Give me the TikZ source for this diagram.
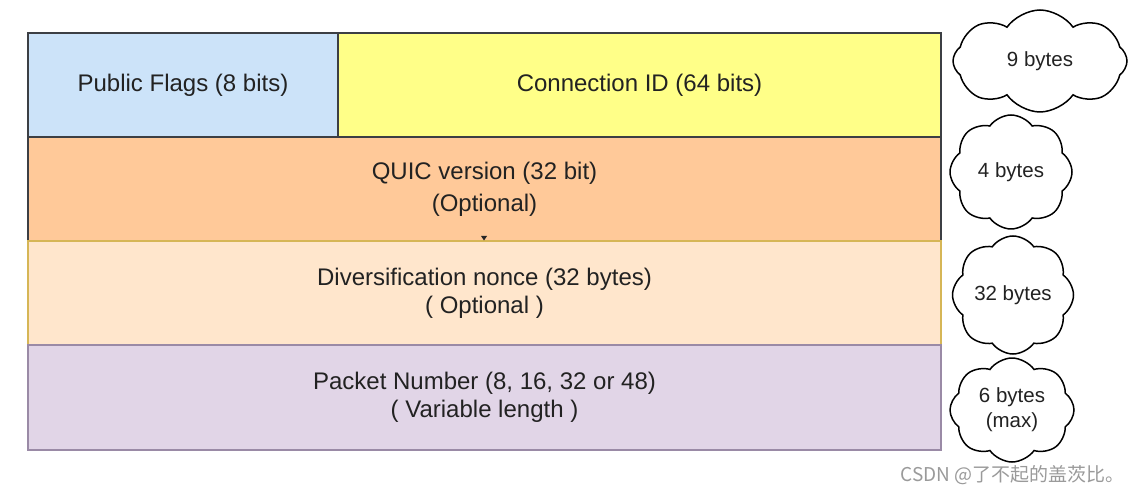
\documentclass[tikz,border=0pt]{standalone}
\usepackage{fontspec}
\setmainfont{Liberation Sans}
\newfontfamily\cjk{Noto Sans CJK SC}
\usetikzlibrary{shapes.symbols}
\definecolor{pfblue}{HTML}{CCE3F9}
\definecolor{cidyellow}{HTML}{FFFF88}
\definecolor{qorange}{HTML}{FFC999}
\definecolor{dpeach}{HTML}{FFE6CC}
\definecolor{dgold}{HTML}{D6B656}
\definecolor{plav}{HTML}{E1D5E7}
\definecolor{pborder}{HTML}{9A8AA6}
\definecolor{darkb}{HTML}{3C3F44}
\definecolor{txt}{HTML}{222222}
\definecolor{wm}{HTML}{9A9A9A}
\tikzset{
  field/.style={draw=darkb, line width=1.8pt, text=txt, align=center, inner sep=0pt,
    font=\fontsize{24}{28}\selectfont},
  bubble/.style={cloud, cloud puffs=8, cloud puff arc=110, cloud ignores aspect, draw=black, line width=1.5pt,
    fill=white, text=txt, align=center, inner sep=0pt, font=\fontsize{20.5}{25}\selectfont}
}
\begin{document}
\begin{tikzpicture}[x=1pt,y=-1pt]
\useasboundingbox[fill=white] (0,0) rectangle (1132,494);
% row 1
\node[field, fill=pfblue, minimum width=310pt, minimum height=104pt] (pf) at (183,85) {Public Flags (8 bits)};
\node[field, fill=cidyellow, minimum width=603pt, minimum height=104pt] (cid) at (639.5,85) {Connection ID (64 bits)};
% row 2
\node[field, fill=qorange, minimum width=913pt, minimum height=104pt] (qv) at (484.5,189) {QUIC version (32 bit)\\[4pt](Optional)};
% row 3
\node[field, fill=dpeach, draw=dgold, minimum width=913pt, minimum height=104pt] (dn) at (484.5,293) {Diversification nonce (32 bytes)\\( Optional )};
% row 4
\node[field, fill=plav, draw=pborder, minimum width=913pt, minimum height=105pt] (pn) at (484.5,397.5) {Packet Number (8, 16, 32 or 48)\\( Variable length )};
% tiny mark
\fill[black!85] (481,236) -- (487,236) -- (484,240.5) -- cycle;
% clouds
\node[bubble, minimum width=174pt, minimum height=102pt] (c1) at (1040,61) {9 bytes};
\node[bubble, minimum width=122pt, minimum height=114pt] (c2) at (1011,172) {4 bytes};
\node[bubble, minimum width=121pt, minimum height=118pt] (c3) at (1013,295) {32 bytes};
\node[bubble, minimum width=124pt, minimum height=104pt] (c4) at (1012,410) {6 bytes\\(max)};
% watermark
\node[text=wm, anchor=east, inner sep=0pt, font=\cjk\fontsize{19}{21}\selectfont] (wmk) at (1125,475) {CSDN @了不起的盖茨比。};
\end{tikzpicture}
\end{document}
